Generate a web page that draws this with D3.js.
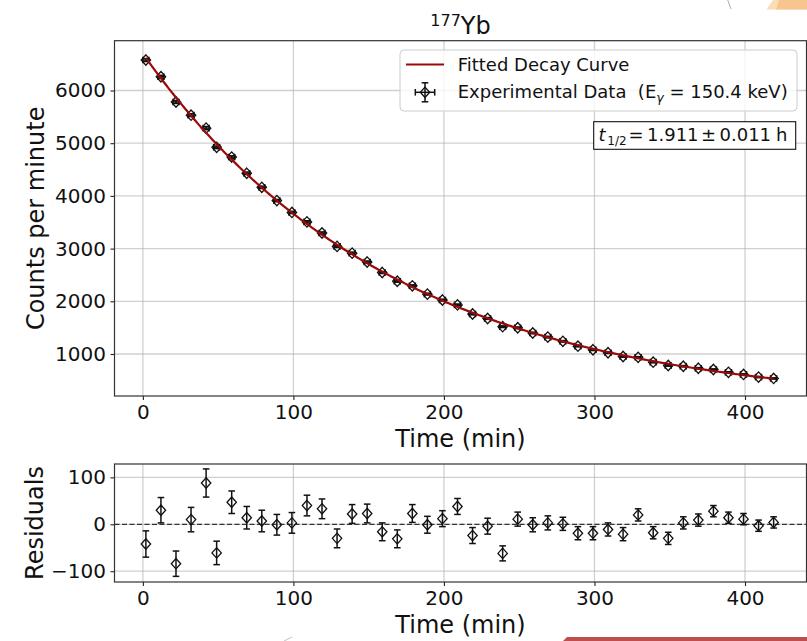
<!DOCTYPE html>
<html>
<head>
<meta charset="utf-8">
<script src="https://cdn.jsdelivr.net/npm/d3@7"></script>
<style>
  body { margin: 0; background: #fff; }
  svg { display: block; font-family: "DejaVu Sans", sans-serif; }
</style>
</head>
<body>
<div id="chart"></div>
<script>
// measurement times (min)
const times = [2, 12, 22, 32, 42, 49, 59, 69, 79, 89, 99, 109, 119, 129, 139, 149, 159, 169, 179, 189,
  199, 209, 219, 229, 239, 249, 259, 269, 279, 289, 299, 309, 319, 329, 339, 349, 359, 369, 379, 389,
  399, 409, 419];
// counts per minute
const counts = [6578, 6261, 5782, 5532, 5286, 4922, 4737, 4429, 4163, 3911, 3686, 3507, 3296, 3042, 2914,
  2745, 2546, 2381, 2294, 2136, 2024, 1932, 1759, 1674, 1518, 1498, 1399, 1321, 1241, 1149, 1080, 1024,
  953, 937, 845, 782, 768, 729, 706, 652, 612, 562, 536];
// uncertainty on counts (same in residual panel)
const countErr = [28, 27, 27, 26, 30, 25, 24, 24, 23, 22, 22, 22, 21, 20, 20, 20, 19, 19, 19, 18,
  17, 17, 17, 17, 16, 15, 15, 15, 14, 14, 14, 14, 14, 13, 13, 13, 13, 13, 12, 12, 12, 12, 12];
const residuals = [-42, 30, -84, 10, 88, -61, 47, 14, 7, -1, 3, 40, 33, -30, 22, 23, -16, -31, 23, -1,
  12, 38, -24, -4, -62, 11, -1, 3, 1, -19, -19, -11, -21, 20, -18, -30, 3, 9, 28, 14, 11, -3, 4];
const timeErr = 2;

// fit parameters
const fitA0 = 6700;
const halfLifeHours = 1.911;

const xTicks = [0, 100, 200, 300, 400];
const yTicksMain = [1000, 2000, 3000, 4000, 5000, 6000];
const yTicksRes = [-100, 0, 100];

const W = 807, H = 641;
const font = "DejaVu Sans";

const svg = d3.select("#chart").append("svg")
  .attr("width", W)
  .attr("height", H);

svg.append("rect").attr("width", W).attr("height", H).attr("fill", "#fff");

const main = { left: 114.5, right: 806.5, top: 40.7, bottom: 396 };
const res = { left: 114.5, right: 806.5, top: 464, bottom: 582 };

const x = d3.scaleLinear().domain([-18.85, 440.85]).range([main.left, main.right]);
const yMain = d3.scaleLinear().domain([203, 6945]).range([main.bottom, main.top]);
const yRes = d3.scaleLinear().domain([-123, 128.5]).range([res.bottom, res.top]);

const diamond = (cx, cy) => `M${cx},${cy - 5.2}L${cx + 4.7},${cy}L${cx},${cy + 5.2}L${cx - 4.7},${cy}Z`;

// grid lines
function drawGrid(box, yScale, yTicks) {
  const g = svg.append("g").attr("stroke", "#b0b0b0").attr("stroke-opacity", 0.6).attr("stroke-width", 1.3);
  g.selectAll("line.vx").data(xTicks).enter().append("line")
    .attr("x1", d => x(d)).attr("x2", d => x(d))
    .attr("y1", box.top).attr("y2", box.bottom);
  g.selectAll("line.hy").data(yTicks).enter().append("line")
    .attr("x1", box.left).attr("x2", box.right)
    .attr("y1", d => yScale(d)).attr("y2", d => yScale(d));
}
drawGrid(main, yMain, yTicksMain);
drawGrid(res, yRes, yTicksRes);

// zero line in residual panel
svg.append("line")
  .attr("x1", res.left).attr("x2", res.right)
  .attr("y1", yRes(0)).attr("y2", yRes(0))
  .attr("stroke", "#333").attr("stroke-width", 1.2)
  .attr("stroke-dasharray", "5,2.5");

// error bars + markers
function drawPoints(yScale, values, withX) {
  const g = svg.append("g");
  const pts = times.map((t, i) => ({ t, v: values[i], e: countErr[i] }));
  const eb = g.selectAll("g.eb").data(pts).enter().append("g")
    .attr("stroke", "#111").attr("stroke-width", 1.5).attr("fill", "none");
  eb.append("line")
    .attr("x1", d => x(d.t)).attr("x2", d => x(d.t))
    .attr("y1", d => yScale(d.v - d.e)).attr("y2", d => yScale(d.v + d.e));
  eb.append("line")
    .attr("x1", d => x(d.t) - 3.3).attr("x2", d => x(d.t) + 3.3)
    .attr("y1", d => yScale(d.v - d.e)).attr("y2", d => yScale(d.v - d.e));
  eb.append("line")
    .attr("x1", d => x(d.t) - 3.3).attr("x2", d => x(d.t) + 3.3)
    .attr("y1", d => yScale(d.v + d.e)).attr("y2", d => yScale(d.v + d.e));
  if (withX) {
    eb.append("line")
      .attr("x1", d => x(d.t - timeErr)).attr("x2", d => x(d.t + timeErr))
      .attr("y1", d => yScale(d.v)).attr("y2", d => yScale(d.v));
    eb.append("line")
      .attr("x1", d => x(d.t - timeErr)).attr("x2", d => x(d.t - timeErr))
      .attr("y1", d => yScale(d.v) - 3.3).attr("y2", d => yScale(d.v) + 3.3);
    eb.append("line")
      .attr("x1", d => x(d.t + timeErr)).attr("x2", d => x(d.t + timeErr))
      .attr("y1", d => yScale(d.v) - 3.3).attr("y2", d => yScale(d.v) + 3.3);
  }
  g.selectAll("path.mk").data(pts).enter().append("path")
    .attr("d", d => diamond(x(d.t), yScale(d.v)))
    .attr("fill", "none").attr("stroke", "#111").attr("stroke-width", 1.3);
}
drawPoints(yMain, counts, true);
drawPoints(yRes, residuals, false);

// fitted decay curve
const lambda = Math.LN2 / (halfLifeHours * 60);
const tMin = d3.min(times), tMax = d3.max(times);
const curve = d3.range(0, 401).map(i => {
  const t = tMin + (tMax - tMin) * i / 400;
  return [t, fitA0 * Math.exp(-lambda * t)];
});
svg.append("path")
  .datum(curve)
  .attr("d", d3.line().x(d => x(d[0])).y(d => yMain(d[1])))
  .attr("fill", "none").attr("stroke", "#9a0a0a").attr("stroke-width", 2.2);

// axes
function styleAxis(g) {
  g.attr("font-size", 20).attr("font-family", font);
  g.select(".domain").remove();
  g.selectAll(".tick line").attr("stroke", "#222").attr("stroke-width", 1.1);
  g.selectAll(".tick text").attr("fill", "#111");
}
svg.append("g").attr("transform", `translate(0,${main.bottom})`)
  .call(d3.axisBottom(x).tickValues(xTicks).tickSize(4).tickPadding(5).tickFormat(d3.format("d")))
  .call(styleAxis);
svg.append("g").attr("transform", `translate(${main.left},0)`)
  .call(d3.axisLeft(yMain).tickValues(yTicksMain).tickSize(4).tickPadding(4.5).tickFormat(d3.format("d")))
  .call(styleAxis);
svg.append("g").attr("transform", `translate(0,${res.bottom})`)
  .call(d3.axisBottom(x).tickValues(xTicks).tickSize(4).tickPadding(5).tickFormat(d3.format("d")))
  .call(styleAxis);
svg.append("g").attr("transform", `translate(${res.left},0)`)
  .call(d3.axisLeft(yRes).tickValues(yTicksRes).tickSize(4).tickPadding(4.5).tickFormat(d3.format("d")))
  .call(styleAxis);

// frames
[main, res].forEach(b => {
  svg.append("rect")
    .attr("x", b.left).attr("y", b.top)
    .attr("width", b.right - b.left).attr("height", b.bottom - b.top)
    .attr("fill", "none").attr("stroke", "#333").attr("stroke-width", 1.2);
});

// axis labels
const label = (tx, ty, txt, rot) => svg.append("text")
  .attr("transform", `translate(${tx},${ty})` + (rot ? " rotate(-90)" : ""))
  .attr("text-anchor", "middle").attr("font-size", 24).attr("font-family", font)
  .attr("fill", "#111").text(txt);
label((main.left + main.right) / 2, main.bottom + 50.5, "Time (min)");
label((res.left + res.right) / 2, res.bottom + 50.5, "Time (min)");
label(44, (main.top + main.bottom) / 2, "Counts per minute", true);
label(42.5, (res.top + res.bottom) / 2, "Residuals", true);

// title
const title = svg.append("text")
  .attr("x", (main.left + main.right) / 2).attr("y", 34.3)
  .attr("text-anchor", "middle").attr("font-family", font).attr("fill", "#111");
title.append("tspan").attr("font-size", 16).attr("dy", -8.3).text("177");
title.append("tspan").attr("font-size", 24).attr("dy", 8.3).text("Yb");

// legend
const lg = svg.append("g");
lg.append("rect")
  .attr("x", 400).attr("y", 50).attr("width", 397).attr("height", 61).attr("rx", 4)
  .attr("fill", "#fff").attr("fill-opacity", 0.8)
  .attr("stroke", "#cccccc").attr("stroke-width", 1);
lg.append("line")
  .attr("x1", 406).attr("x2", 444).attr("y1", 64.5).attr("y2", 64.5)
  .attr("stroke", "#9a0a0a").attr("stroke-width", 2.2);
lg.append("text")
  .attr("x", 457.7).attr("y", 71.3).attr("font-size", 18).attr("font-family", font)
  .attr("fill", "#111").text("Fitted Decay Curve");
const lgx = 425, lgy = 92.3;
const lgE = lg.append("g").attr("stroke", "#111").attr("stroke-width", 1.5).attr("fill", "none");
lgE.append("line").attr("x1", lgx - 9.7).attr("x2", lgx + 9.7).attr("y1", lgy).attr("y2", lgy);
lgE.append("line").attr("x1", lgx).attr("x2", lgx).attr("y1", lgy - 9.5).attr("y2", lgy + 9.5);
lgE.append("line").attr("x1", lgx - 9.7).attr("x2", lgx - 9.7).attr("y1", lgy - 3.3).attr("y2", lgy + 3.3);
lgE.append("line").attr("x1", lgx + 9.7).attr("x2", lgx + 9.7).attr("y1", lgy - 3.3).attr("y2", lgy + 3.3);
lgE.append("line").attr("x1", lgx - 3.3).attr("x2", lgx + 3.3).attr("y1", lgy - 9.5).attr("y2", lgy - 9.5);
lgE.append("line").attr("x1", lgx - 3.3).attr("x2", lgx + 3.3).attr("y1", lgy + 9.5).attr("y2", lgy + 9.5);
lgE.append("path").attr("d", diamond(lgx, lgy)).attr("stroke-width", 1.3);
const lt = lg.append("text")
  .attr("x", 457.7).attr("y", 98.1).attr("font-size", 18).attr("font-family", font)
  .attr("fill", "#111").style("white-space", "pre");
lt.append("tspan").text("Experimental Data  (E");
lt.append("tspan").attr("font-size", 12.6).attr("font-style", "italic").attr("dy", 4).text("γ");
lt.append("tspan").attr("dy", -4).text(" = 150.4 keV)");

// half-life annotation
svg.append("rect")
  .attr("x", 593.7).attr("y", 121.7).attr("width", 202).attr("height", 27.6)
  .attr("fill", "#fff").attr("stroke", "#111").attr("stroke-width", 1.1);
const ann = svg.append("text")
  .attr("y", 141.4).attr("font-size", 18).attr("font-family", font).attr("fill", "#111");
ann.append("tspan").attr("x", 598.5).attr("font-style", "italic").text("t");
ann.append("tspan").attr("x", 607.3).attr("dy", 4).attr("font-size", 12).text("1/2");
ann.append("tspan").attr("x", 628.5).attr("dy", -4).text("=");
ann.append("tspan").attr("x", 647).text("1.911");
ann.append("tspan").attr("x", 701).text("±");
ann.append("tspan").attr("x", 719.5).text("0.011");
ann.append("tspan").attr("x", 776).text("h");

// page background fragments at edges
svg.append("path").attr("d", "M766.5,9.5L773,0L807,0L807,9.5Z").attr("fill", "#fcdcb8");
svg.append("path").attr("d", "M776,9.5L779,0L807,0L807,9.5Z").attr("fill", "#f8c58f");
svg.append("line").attr("x1", 727.7).attr("y1", 0).attr("x2", 731).attr("y2", 9)
  .attr("stroke", "#aaa").attr("stroke-width", 1);
svg.append("path").attr("d", "M563,641L567,637L807,637L807,641Z").attr("fill", "#bf4f4f");
svg.append("line").attr("x1", 284).attr("y1", 641).attr("x2", 292).attr("y2", 637)
  .attr("stroke", "#ccc").attr("stroke-width", 1.2);
</script>
</body>
</html>
